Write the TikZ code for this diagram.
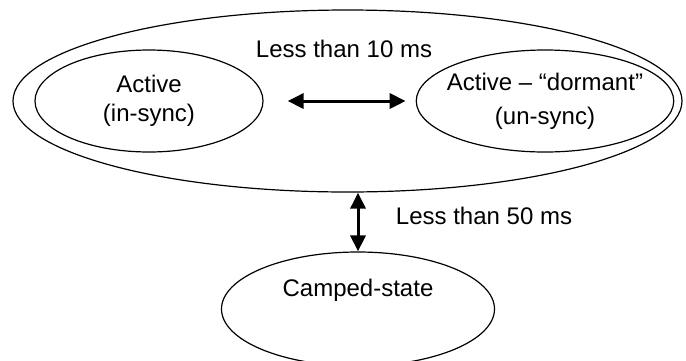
\documentclass[tikz,border=0pt]{standalone}
\usepackage{fontspec}
\setmainfont{Liberation Sans}
\usetikzlibrary{arrows.meta,shapes.geometric}

\begin{document}
\begin{tikzpicture}[
	x=1pt, y=-1pt, font=\fontsize{24}{29}\selectfont,
	state/.style={draw, ellipse, line width=1.2pt, inner sep=0pt, align=center},
	link/.style={{Triangle[length=16pt,width=15pt]}-{Triangle[length=16pt,width=15pt]}, line width=3pt}]
	%\draw [help lines] (0,0) rectangle (686,360);
	\useasboundingbox (0,0) rectangle (686,360);
	\clip (0,0) rectangle (686,360);
	\node[state, minimum width=669pt, minimum height=182pt] (active) at (347.5,101) {};
	\node[state, minimum width=228pt, minimum height=102pt] (insync) at (149,101) {Active\\(in-sync)};
	\node[state, inner xsep=-7pt, minimum width=255pt, minimum height=102pt] (unsync) at (545,101) {Active -- “dormant”\\[5pt](un-sync)};
	\node (t10) at (344,49) {Less than 10 ms};
	\draw [link, shorten <=24pt, shorten >=10pt] (insync) -- (unsync);
	\node[state, minimum width=273pt, minimum height=114pt,
		label={[yshift=19pt]center:Camped-state}] (camped) at (358,309) {};
	\draw [link] (active.south -| camped.north) -- (camped);
	\node (t50) at (484,216) {Less than 50 ms};
\end{tikzpicture}
\end{document}
